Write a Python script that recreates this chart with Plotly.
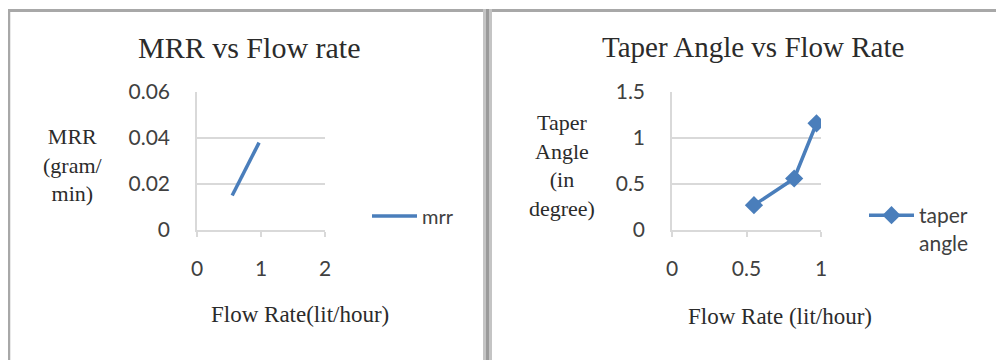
import plotly.graph_objects as go

# ---- data ----
flow_rate = [0.55, 0.82, 0.97]
mrr = [0.015, 0.0302, 0.038]
taper_angle = [0.27, 0.56, 1.16]

left_title = "MRR vs Flow rate"
right_title = "Taper Angle vs Flow Rate"
left_ytitle = "MRR<br>(gram/<br>min)"
right_ytitle = "Taper<br>Angle<br>(in<br>degree)"
left_xtitle = "Flow Rate(lit/hour)"
right_xtitle = "Flow Rate (lit/hour)"

W, H = 1004, 360
OFF = 8  # page body margin offset
def px(x):
    return (x - OFF) / W
def py(y):
    return 1 - (y - OFF) / H

BLUE = "#4a7ebb"
GRID = "#d9d9d9"
SERIF = "Liberation Serif"
SANS = "Lato"
TXT = "#2b2b2b"
TICK = "#404040"

fig = go.Figure()
fig.add_trace(go.Scatter(x=flow_rate, y=mrr, mode="lines", name="mrr",
                         line=dict(color=BLUE, width=3.5),
                         xaxis="x", yaxis="y", legend="legend"))
fig.add_trace(go.Scatter(x=flow_rate, y=taper_angle, mode="lines+markers",
                         name="taper<br>angle",
                         line=dict(color=BLUE, width=3.5),
                         marker=dict(symbol="diamond", size=14, color=BLUE),
                         xaxis="x2", yaxis="y2", legend="legend2"))

base = dict(zeroline=False, automargin=False,
            showline=True, linecolor=GRID, linewidth=1.5,
            tickfont=dict(family=SANS, size=21, color=TICK))
xax = dict(base, showgrid=False, ticks="outside", ticklen=5, tickcolor=GRID,
           tickwidth=1.5, ticklabelstandoff=14)
yax = dict(base, showgrid=True, gridcolor=GRID, gridwidth=1.5, ticks="",
           ticklabelstandoff=21)

fig.update_layout(
    width=W, height=H,
    margin=dict(l=0, r=0, t=0, b=0, pad=0, autoexpand=False),
    paper_bgcolor="white", plot_bgcolor="white",
    xaxis=dict(xax, domain=[px(197), px(325)], range=[0, 2], dtick=1, anchor="y"),
    yaxis=dict(yax, domain=[py(230), py(92)], range=[0, 0.06], dtick=0.02, anchor="x"),
    xaxis2=dict(xax, domain=[px(672), px(821)], range=[0, 1], dtick=0.5, anchor="y2"),
    yaxis2=dict(yax, domain=[py(230), py(92)], range=[0, 1.5], dtick=0.5, anchor="x2"),
    legend=dict(x=px(367), y=py(216), xanchor="left", yanchor="middle",
                font=dict(family=SANS, size=20, color=TICK),
                bgcolor="rgba(0,0,0,0)", itemwidth=45),
    legend2=dict(x=px(864), y=py(195), xanchor="left", yanchor="top",
                 valign="top", tracegroupgap=0,
                 font=dict(family=SANS, size=21, color=TICK),
                 bgcolor="rgba(0,0,0,0)", itemwidth=45),
    showlegend=True,
)

annotations = [
    dict(text=left_title, x=px(249), y=py(47), font=dict(family=SERIF, size=30, color=TXT)),
    dict(text=right_title, x=px(753), y=py(47), font=dict(family=SERIF, size=29, color=TXT)),
    dict(text=left_ytitle, x=px(73), y=py(165), font=dict(family=SERIF, size=22, color=TXT)),
    dict(text=right_ytitle, x=px(562), y=py(165), font=dict(family=SERIF, size=22, color=TXT)),
    dict(text=left_xtitle, x=px(300), y=py(314), font=dict(family=SERIF, size=23, color=TXT)),
    dict(text=right_xtitle, x=px(780), y=py(316), font=dict(family=SERIF, size=23, color=TXT)),
]
for a in annotations:
    a.update(xref="paper", yref="paper", showarrow=False, xanchor="center", yanchor="middle")
fig.update_layout(annotations=annotations)

BORDER = "#a8a8a8"
shapes = [
    dict(type="line", x0=px(9), x1=px(9), y0=py(9), y1=py(372), line=dict(color=BORDER, width=2.5)),
    dict(type="line", x0=px(8), x1=px(1016), y0=py(10.5), y1=py(10.5), line=dict(color=BORDER, width=3)),
    dict(type="rect", x0=px(483), x1=px(492), y0=py(9), y1=py(372), fillcolor="#c4c4c4", line=dict(width=0)),
    dict(type="line", x0=px(487.5), x1=px(487.5), y0=py(9), y1=py(372), line=dict(color="#9a9a9a", width=3)),
]
for s in shapes:
    s.update(xref="paper", yref="paper", layer="above")
fig.update_layout(shapes=shapes)

fig.write_html("out.html")
